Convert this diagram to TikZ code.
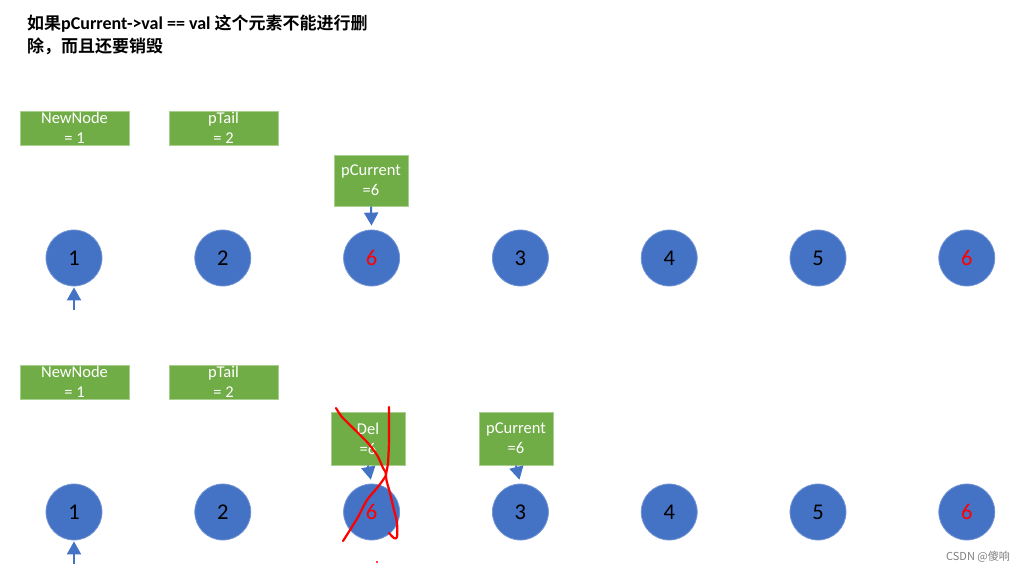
\documentclass[tikz,border=0pt]{standalone}
\usepackage{fontspec}
\setmainfont{Carlito}
\newfontfamily\cjkbold{Noto Sans CJK SC Bold}
\newfontfamily\cjk{Noto Sans CJK SC}
\usetikzlibrary{arrows.meta}
\definecolor{nodeblue}{HTML}{4472C4}
\definecolor{boxgreen}{HTML}{70AD47}
\definecolor{boxedge}{HTML}{A9CF8E}
\tikzset{
	elem/.style={circle, fill=nodeblue, draw=nodeblue!75!white, line width=0.8pt, minimum size=56pt, inner sep=0pt, font=\fontsize{22.5}{22}\selectfont},
	ptrbox/.style={rectangle, fill=boxgreen, draw=boxedge, line width=1pt, text=white, align=center, inner sep=0pt, font=\fontsize{16.5}{20}\selectfont},
	ptrarrow/.style={nodeblue, line width=2pt, -{Triangle[width=14pt,length=13pt]}},
	scribble/.style={red, line width=2.2pt, line cap=round, line join=round},
}
\begin{document}
\begin{tikzpicture}[x=1pt, y=-1pt]
		\useasboundingbox[fill=white] (0,0) rectangle (1024,573);
		% title
		\node[anchor=north west, align=left, inner sep=0pt, font=\fontsize{17}{23.5}\selectfont] (title) at (27,14.5)
			{{\cjkbold 如果}{\fontsize{18}{23.5}\selectfont\bfseries pCurrent->val == val }{\cjkbold 这个元素不能进行删}\\{\cjkbold 除，而且还要销毁}};
		% first row
		\foreach \v/\col [count=\i] in {1/black,2/black,6/red,3/black,4/black,5/black,6/red}
			\node[elem, text=\col] (a\i) at ({74+148.8*(\i-1)}, 258) {\v};
		\node[ptrbox, minimum width=109pt, minimum height=34pt] (newA) at (74.5,128) {NewNode\\= 1};
		\node[ptrbox, minimum width=109pt, minimum height=34pt] (tailA) at (223.5,128) {pTail\\= 2};
		\node[ptrbox, minimum width=74pt, minimum height=51pt] (curA) at (371,180.5) {pCurrent\\=6};
		\draw[ptrarrow, shorten >=4pt] (curA.south) -- (a3.north);
		\coordinate (headA) at (74,310);
		\draw[ptrarrow, shorten >=1pt] (headA) -- (a1.south);
		% second row
		\foreach \v/\col [count=\i] in {1/black,2/black,6/red,3/black,4/black,5/black,6/red}
			\node[elem, text=\col] (b\i) at ({74+148.8*(\i-1)}, 512) {\v};
		\node[ptrbox, minimum width=109pt, minimum height=34pt] (newB) at (74.5,382) {NewNode\\= 1};
		\node[ptrbox, minimum width=109pt, minimum height=34pt] (tailB) at (223.5,382) {pTail\\= 2};
		\node[ptrbox, minimum width=74pt, minimum height=53pt] (delB) at (368,438.5) {Del\\=6};
		\node[ptrbox, minimum width=74pt, minimum height=53pt] (curB) at (516,438.5) {pCurrent\\=6};
		\draw[ptrarrow, shorten >=4pt] (delB.south) -- (b3.north);
		\draw[ptrarrow, shorten >=4pt] (curB.south) -- (b4.north);
		\coordinate (headB) at (74,564);
		\draw[ptrarrow, shorten >=1pt] (headB) -- (b1.south);
		% red cross-out
		\draw[scribble] plot[smooth] coordinates {(336,408) (342,417) (353,428) (367,442) (377,455) (383,468) (386,475) (377,488) (367,500) (358,517) (350,530) (343,541)};
		\draw[scribble] plot[smooth] coordinates {(389,407) (389,440) (388,463) (386,477) (390,493) (394,510) (397,523) (397,537) (394,538) (389,533)};
		\fill[red] (377,562) circle (1.2pt);
		% watermark
		\node[anchor=east, inner sep=0pt, text=gray, font=\cjk\fontsize{11}{12}\selectfont] (mark) at (1010,557) {CSDN @傻响};
\end{tikzpicture}
\end{document}
